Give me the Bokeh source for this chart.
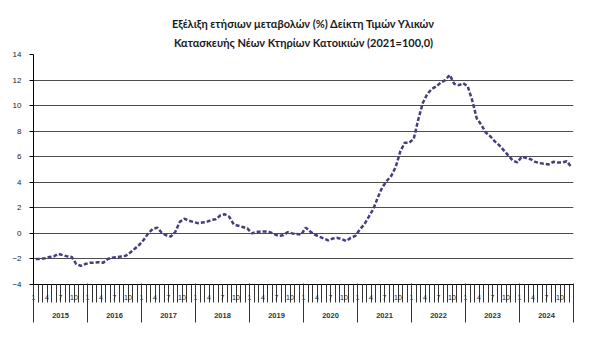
from bokeh.plotting import figure
from bokeh.models import FixedTicker, LinearAxis, Range1d, Title, ColumnDataSource
from bokeh.embed import file_html
from bokeh.resources import INLINE

title_line1 = "Εξέλιξη ετήσιων μεταβολών (%) Δείκτη Τιμών Υλικών"
title_line2 = "Κατασκευής Νέων Κτηρίων Κατοικιών (2021=100,0)"

years = [2015, 2016, 2017, 2018, 2019, 2020, 2021, 2022, 2023, 2024]
month_labels = [1, 4, 7, 10]
y_ticks = [-4, -2, 0, 2, 4, 6, 8, 10, 12, 14]

v2015 = [-2.0, -2.0, -1.95, -1.85, -1.8, -1.6, -1.7, -1.8, -1.85, -2.4, -2.55, -2.4]
v2016 = [-2.3, -2.3, -2.25, -2.3, -2.0, -1.9, -1.85, -1.8, -1.75, -1.5, -1.2, -0.9]
v2017 = [-0.5, 0.0, 0.35, 0.45, 0.05, -0.15, -0.25, 0.1, 0.9, 1.15, 1.0, 0.9]
v2018 = [0.8, 0.85, 0.9, 1.05, 1.1, 1.4, 1.5, 1.3, 0.7, 0.6, 0.5, 0.4]
v2019 = [0.0, 0.1, 0.15, 0.15, 0.1, -0.05, -0.2, -0.15, 0.1, 0.0, -0.05, -0.1]
v2020 = [0.45, 0.15, -0.1, -0.25, -0.4, -0.55, -0.4, -0.35, -0.45, -0.6, -0.35, -0.2]
v2021 = [0.3, 0.7, 1.3, 1.9, 2.8, 3.6, 4.1, 4.5, 5.2, 6.4, 7.1, 7.1]
v2022 = [7.4, 8.9, 10.2, 10.9, 11.3, 11.5, 11.8, 12.0, 12.4, 11.7, 11.6, 11.75]
v2023 = [11.5, 10.4, 9.0, 8.5, 7.9, 7.6, 7.2, 6.9, 6.5, 6.1, 5.7, 5.55]
v2024 = [6.0, 5.9, 5.8, 5.6, 5.5, 5.45, 5.4, 5.6, 5.55, 5.55, 5.65, 5.2]

values = v2015 + v2016 + v2017 + v2018 + v2019 + v2020 + v2021 + v2022 + v2023 + v2024
n_months = len(values)
xs = [i + 0.5 for i in range(n_months)]

src = ColumnDataSource(dict(x=xs, y=values))

p = figure(width=600, height=355, output_backend="svg", toolbar_location=None,
           x_range=Range1d(0, n_months), y_range=Range1d(-4, 14),
           x_axis_type=None, title=None,
           min_border_left=33, min_border_right=27, min_border_top=54, min_border_bottom=71)
p.outline_line_color = None
p.background_fill_color = "white"
p.border_fill_color = "white"

font = "Liberation Sans"

t2 = Title(text=title_line2, align="center", text_font="Lato", text_font_size="11px",
           text_font_style="bold", text_color="#1a1a1a", standoff=12)
t1 = Title(text=title_line1, align="center", text_font="Lato", text_font_size="11px",
           text_font_style="bold", text_color="#1a1a1a", standoff=-5)
p.add_layout(t2, "above")
p.add_layout(t1, "above")

# y axis
yax = p.yaxis[0]
yax.ticker = FixedTicker(ticks=y_ticks)
yax.major_tick_out = 4
yax.major_tick_in = 0
yax.minor_tick_out = 0
yax.minor_tick_in = 0
yax.major_label_standoff = 8
yax.major_label_text_font = font
yax.major_label_text_font_size = "8px"
yax.major_label_text_color = "#222222"
yax.axis_line_color = "black"
yax.major_tick_line_color = "black"

p.ygrid.ticker = FixedTicker(ticks=y_ticks)
p.ygrid.grid_line_color = "#4d4d4d"
p.ygrid.grid_line_width = 1

# month axis: ticks at month boundaries, labels 1/4/7/10
bounds = list(range(0, n_months + 1))
month_over = {}
for b in bounds:
    m = b % 12 + 1
    month_over[b] = str(m) if (m in month_labels and b < n_months) else ""
ax_m = LinearAxis(ticker=FixedTicker(ticks=bounds),
                  major_label_overrides=month_over,
                  major_tick_out=18, major_tick_in=0,
                  major_label_standoff=-8,
                  major_label_text_align="left",
                  major_label_text_font=font, major_label_text_font_size="7px",
                  major_label_text_color="#1a1a1a",
                  axis_line_color="black", major_tick_line_color="#333333")
p.add_layout(ax_m, "below")

# year separators
year_bounds = [yi * 12 for yi in range(len(years) + 1)]
ax_sep = LinearAxis(ticker=FixedTicker(ticks=year_bounds),
                    major_label_overrides={b: "" for b in year_bounds},
                    major_tick_out=20, major_tick_in=19,
                    major_label_standoff=0, major_label_text_font_size="1px",
                    axis_line_color=None, major_tick_line_color="#333333")
p.add_layout(ax_sep, "below")

# year labels
year_centers = [yi * 12 + 6 for yi in range(len(years))]
year_over = {c: str(y) for c, y in zip(year_centers, years)}
ax_y = LinearAxis(ticker=FixedTicker(ticks=year_centers),
                  major_label_overrides=year_over,
                  major_tick_out=0, major_tick_in=0,
                  major_label_standoff=-10,
                  major_label_text_font=font, major_label_text_font_size="7.5px",
                  major_label_text_font_style="bold",
                  major_label_text_color="#333333",
                  axis_line_color=None)
p.add_layout(ax_y, "below")

p.line("x", "y", source=src, line_color="#4b3c7d", line_width=2.5, line_dash="4 2")

open("out.html", "w").write(file_html(p, INLINE))
